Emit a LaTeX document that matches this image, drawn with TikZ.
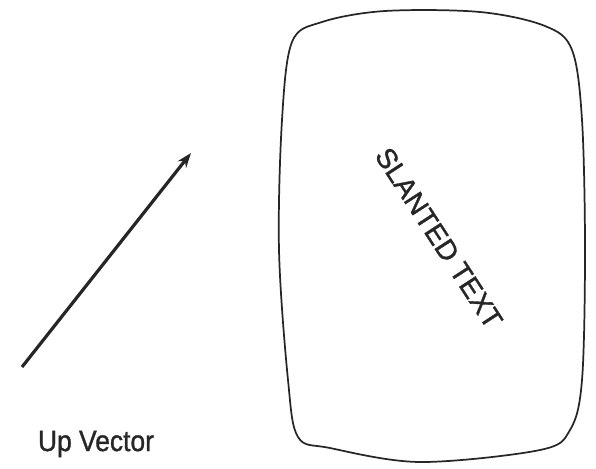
\documentclass[tikz,border=0pt]{standalone}
\usepackage{fontspec}
\setmainfont{Liberation Sans}
\newfontfamily\medsans[FakeBold=1.2]{Liberation Sans}
\usetikzlibrary{arrows.meta}
\begin{document}
\begin{tikzpicture}[x=0.75pt,y=-0.75pt,
  screen/.style={draw=black!85,line width=1.3pt},
  vec/.style={draw=black!85,line width=2.4pt,-{Stealth[length=11pt,width=8pt]}},
  lbl/.style={font=\medsans\fontsize{22}{22}\selectfont,text=black!85,inner sep=0pt}]
\useasboundingbox (0,0) rectangle (596,468);
\coordinate (v0) at (22,367);
\coordinate (v1) at (191,153);
\draw[vec] (v0) -- (v1);
\node[lbl,xscale=0.9] (up) at (96,444) {Up Vector};
\draw[screen] plot[smooth cycle,tension=0.55] coordinates {
  (292,42) (322,22) (385,11) (480,12) (545,26) (572,50)
  (582,120) (585,250) (582,380) (570,430) (540,450) (420,462)
  (330,448) (298,437) (288,380) (279,250) (282,120)};
\node[lbl,rotate=-57,font=\medsans\fontsize{21}{21}\selectfont] (st) at (439,238) {SLANTED TEXT};
\end{tikzpicture}
\end{document}
